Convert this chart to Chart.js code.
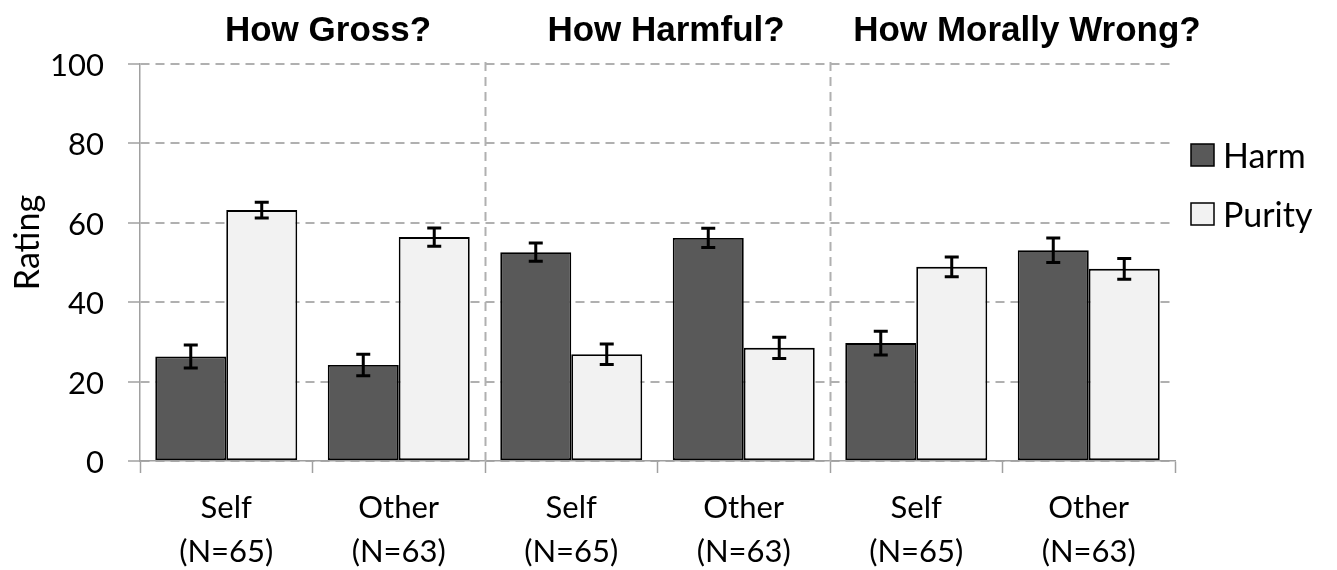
<!DOCTYPE html>
<html>
<head>
<meta charset="utf-8">
<script src="https://cdn.jsdelivr.net/npm/chart.js@4"></script>
<style>
  html, body { margin: 0; padding: 0; background: #fff; }
  #wrap { width: 1337px; height: 570px; }
</style>
</head>
<body>
<div id="wrap"><canvas id="chart" width="1337" height="570"></canvas></div>
<script>
// data
const categories = [['Self', '(N=65)'], ['Other', '(N=63)'], ['Self', '(N=65)'], ['Other', '(N=63)'], ['Self', '(N=65)'], ['Other', '(N=63)']];
const groupTitles = ['How Gross?', 'How Harmful?', 'How Morally Wrong?'];
const harm = [26.3, 24.2, 52.6, 56.2, 29.7, 53.1];
const harmErr = [2.9, 2.7, 2.3, 2.4, 3.0, 3.1];
const purity = [63.2, 56.4, 26.9, 28.5, 48.9, 48.4];
const purityErr = [2.0, 2.3, 2.6, 2.7, 2.5, 2.6];
const yTicks = [0, 20, 40, 60, 80, 100];

const errors = [harmErr, purityErr];
const titleX = [328, 666, 1027]; // titles sit a little right of the group centres
const axisGray = '#a0a0a0';
const gridGray = '#b0b0b0';

// error bars, group separators, titles, legend
const extras = {
    id: 'extras',
    beforeDatasetsDraw(chart) {
        const ctx = chart.ctx;
        const xs = chart.scales.x;
        const area = chart.chartArea;
        ctx.save();
        ctx.strokeStyle = gridGray;
        ctx.lineWidth = 2;
        ctx.setLineDash([9, 6]);
        [1.5, 3.5].forEach(v => {
            const x = Math.round(xs.getPixelForValue(v)) + 0.5;
            ctx.beginPath();
            ctx.moveTo(x, area.top - 2);
            ctx.lineTo(x, area.bottom);
            ctx.stroke();
        });
        ctx.restore();
    },
    afterDatasetsDraw(chart) {
        const ctx = chart.ctx;
        const ys = chart.scales.y;
        ctx.save();
        ctx.strokeStyle = '#000';
        ctx.lineWidth = 3;
        chart.data.datasets.forEach((ds, di) => {
            const meta = chart.getDatasetMeta(di);
            meta.data.forEach((bar, i) => {
                const v = ds.data[i];
                const e = errors[di][i];
                const yTop = ys.getPixelForValue(v + e);
                const yBot = ys.getPixelForValue(v - e);
                const x = bar.x;
                ctx.beginPath();
                ctx.moveTo(x, yTop); ctx.lineTo(x, yBot);
                ctx.moveTo(x - 7, yTop); ctx.lineTo(x + 7, yTop);
                ctx.moveTo(x - 7, yBot); ctx.lineTo(x + 7, yBot);
                ctx.stroke();
            });
        });
        ctx.restore();
    },
    afterDraw(chart) {
        const ctx = chart.ctx;
        const area = chart.chartArea;
        ctx.save();
        // group titles
        ctx.fillStyle = '#000';
        ctx.font = 'bold 35px "Liberation Sans", Arial, sans-serif';
        ctx.textAlign = 'center';
        ctx.textBaseline = 'middle';
        groupTitles.forEach((t, g) => ctx.fillText(t, titleX[g], 31));
        // y title
        ctx.font = '34px Lato, sans-serif';
        ctx.translate(28, (area.top + area.bottom) / 2 - 20);
        ctx.rotate(-Math.PI / 2);
        ctx.fillText('Rating', 0, 0);
        ctx.setTransform(1, 0, 0, 1, 0, 0);
        // legend
        ctx.textAlign = 'left';
        ctx.font = '34px Lato, sans-serif';
        const items = chart.data.datasets.map(d => [d.label, d.backgroundColor]);
        items.forEach(([label, color], i) => {
            const cy = 155 + i * 59;
            ctx.fillStyle = color;
            ctx.fillRect(1191, cy - 11, 23, 22);
            ctx.strokeStyle = '#000';
            ctx.lineWidth = 1.5;
            ctx.strokeRect(1191, cy - 11, 23, 22);
            ctx.fillStyle = '#000';
            ctx.fillText(label, 1223, cy + 2);
        });
        ctx.restore();
    }
};

new Chart(document.getElementById('chart').getContext('2d'), {
    type: 'bar',
    data: {
        labels: categories,
        datasets: [{
            label: 'Harm',
            data: harm,
            backgroundColor: '#595959',
            borderColor: '#000',
            borderWidth: 1.8,
            borderSkipped: false
        }, {
            label: 'Purity',
            data: purity,
            backgroundColor: '#f2f2f2',
            borderColor: '#000',
            borderWidth: 1.8,
            borderSkipped: false
        }]
    },
    options: {
        responsive: false,
        animation: false,
        layout: { padding: { top: 64, right: 162, left: 0, bottom: 0 } },
        datasets: { bar: { categoryPercentage: 0.823, barPercentage: 1 } },
        plugins: { legend: { display: false }, tooltip: { enabled: false } },
        scales: {
            x: {
                offset: true,
                afterFit: s => { s.height = 109; },
                grid: { drawOnChartArea: false, drawTicks: true, tickLength: 12, tickColor: axisGray, tickWidth: 1.5 },
                border: { color: axisGray, width: 1.5 },
                ticks: { color: '#000', font: { family: 'Lato', size: 31, lineHeight: 1.42 }, padding: 13, maxRotation: 0, autoSkip: false }
            },
            y: {
                min: 0,
                max: 100,
                afterFit: s => { s.width = 140; },
                afterBuildTicks: s => { s.ticks = yTicks.map(v => ({ value: v })); },
                grid: { color: gridGray, lineWidth: 2, tickLength: 12, tickColor: axisGray, tickWidth: 1.5, tickBorderDash: [] },
                border: { color: axisGray, width: 1.5, dash: [9, 6] },
                ticks: { color: '#000', font: { family: 'Lato', size: 31 }, padding: 24, labelOffset: 2 }
            }
        }
    },
    plugins: [extras]
});
</script>
</body>
</html>
